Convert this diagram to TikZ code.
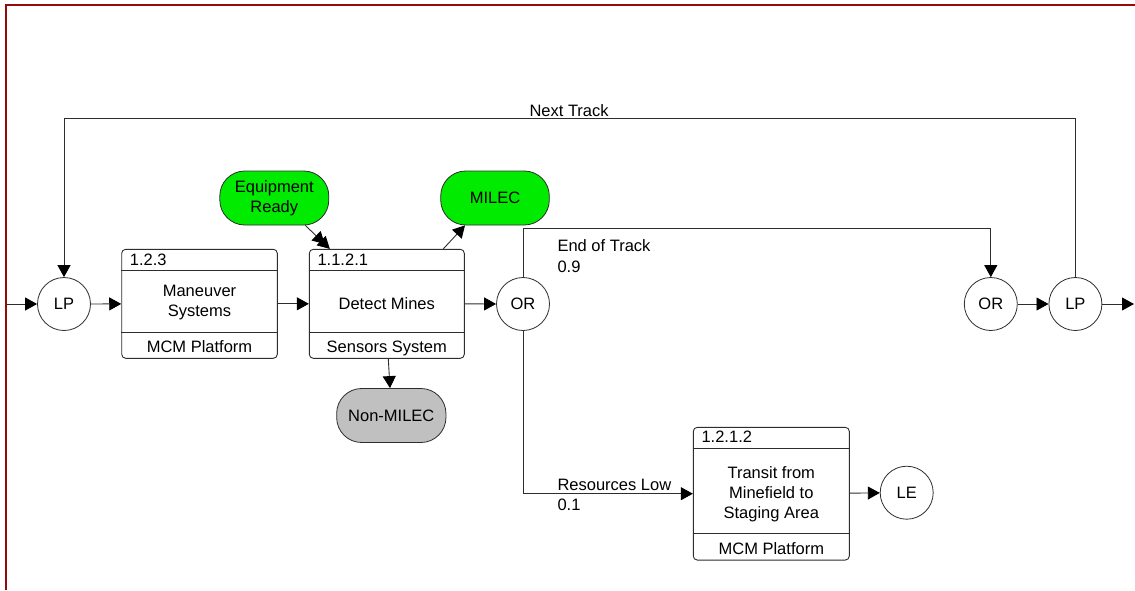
\documentclass[tikz,border=0pt]{standalone}
\usepackage{fontspec}
\setmainfont{Liberation Sans}
\usetikzlibrary{arrows.meta,calc}
\definecolor{framered}{RGB}{150,10,10}
\definecolor{evgreen}{RGB}{0,235,0}
\definecolor{evgray}{RGB}{192,192,192}
\definecolor{ln}{RGB}{45,45,45}
\begin{document}
\begin{tikzpicture}[x=1pt,y=-1pt,
  every node/.style={font=\fontsize{16.5}{20}\selectfont, inner sep=0pt},
  conn/.style={draw=ln, line width=0.9pt, -{Triangle[length=12pt,width=13pt,color=black]}},
  plain/.style={draw=ln, line width=0.9pt},
  gate/.style={circle, draw=ln, line width=0.8pt, minimum size=53pt, fill=white},
  func/.style={rectangle, rounded corners=4pt, draw=ln, line width=0.9pt, fill=white},
  event/.style={rectangle, rounded corners=25pt, draw=ln, line width=0.8pt, minimum height=54pt, align=center},
  lbl/.style={anchor=base west}
]
\useasboundingbox (0,0) rectangle (1135,590);
\draw[framered, line width=2pt] (5.5,590) -- (5.5,4.5) -- (1135,4.5);

% gates
\node[gate] (lp1) at (64,304) {LP};
\node[gate] (or1) at (523,304) {OR};
\node[gate] (or2) at (990.8,304) {OR};
\node[gate] (lp2) at (1075.4,304) {LP};
\node[gate] (le) at (906.7,492.7) {LE};

% function boxes
\node[func, minimum width=155.6pt, minimum height=109pt] (b1) at (199.5,303.8) {};
\draw[plain] ($(b1.north west)+(0,22)$) -- ($(b1.north east)+(0,22)$);
\draw[plain] ($(b1.south west)+(0,-26)$) -- ($(b1.south east)+(0,-26)$);
\node[anchor=base west] (b1id) at ($(b1.north west)+(8.5,17)$) {1.2.3};
\node[align=center] (b1txt) at ($(b1.center)+(0,-1)$) {Maneuver\\Systems};
\node[anchor=base] (b1res) at ($(b1.south)+(0,-6)$) {MCM Platform};

\node[func, minimum width=155pt, minimum height=109pt] (b2) at (386.8,303.8) {};
\draw[plain] ($(b2.north west)+(0,22)$) -- ($(b2.north east)+(0,22)$);
\draw[plain] ($(b2.south west)+(0,-26)$) -- ($(b2.south east)+(0,-26)$);
\node[anchor=base west] (b2id) at ($(b2.north west)+(8.5,17)$) {1.1.2.1};
\node (b2txt) at ($(b2.center)+(0,0)$) {Detect Mines};
\node[anchor=base] (b2res) at ($(b2.south)+(0,-6)$) {Sensors System};

\node[func, minimum width=156pt, minimum height=132.7pt] (b3) at (771.3,493.7) {};
\draw[plain] ($(b3.north west)+(0,21.7)$) -- ($(b3.north east)+(0,21.7)$);
\draw[plain] ($(b3.south west)+(0,-26.7)$) -- ($(b3.south east)+(0,-26.7)$);
\node[anchor=base west] (b3id) at ($(b3.north west)+(8.5,16)$) {1.2.1.2};
\node[align=center] (b3txt) at ($(b3.center)+(0,1)$) {Transit from\\Minefield to\\Staging Area};
\node[anchor=base] (b3res) at ($(b3.south)+(0,-6)$) {MCM Platform};

% events
\node[event, fill=evgreen, minimum width=109pt] (eq) at (274.3,198) {Equipment\\Ready};
\node[event, fill=evgreen, minimum width=108.6pt] (milec) at (495,198) {MILEC};
\node[event, fill=evgray, minimum width=109.3pt] (nm) at (391.3,415.5) {Non-MILEC};

% connectors
\coordinate (in) at (6.5,304);
\coordinate (out) at (1134,304);
\draw[conn] (in) -- (lp1);
\draw[conn] (lp1) -- (b1);
\draw[conn] (b1) -- (b2);
\draw[conn] (b2) -- (or1);
\draw[conn] (or1.north) -- ++(0,-48.3) -| (or2.north);
\draw[conn] (or1.south) |- (b3.west);
\draw[conn] (b3) -- (le);
\draw[conn] (or2) -- (lp2);
\draw[conn] (lp2) -- (out);
\draw[conn] (lp2.north) -- ++(0,-158.5) -| (lp1.north);
\draw[draw=ln, line width=0.9pt, -{Triangle[length=12pt,width=13pt,color=black,sep=-5pt]Triangle[length=12pt,width=13pt,color=black]}] ([xshift=31pt]eq.south) -- ([xshift=-57pt]b2.north);
\draw[conn] ([xshift=56.5pt]b2.north) -- ([xshift=-30pt]milec.south);
\draw[conn] ([xshift=1.5pt]b2.south) -- ([xshift=-1.3pt]nm.north);

% labels
\node[lbl] (nt) at (529.3,116) {Next Track};
\node[lbl] (eot) at (557.3,251.7) {End of Track};
\node[lbl] (p09) at (557.3,272.7) {0.9};
\node[lbl] (rl) at (557.3,490) {Resources Low};
\node[lbl] (p01) at (557.3,510) {0.1};
\end{tikzpicture}
\end{document}
